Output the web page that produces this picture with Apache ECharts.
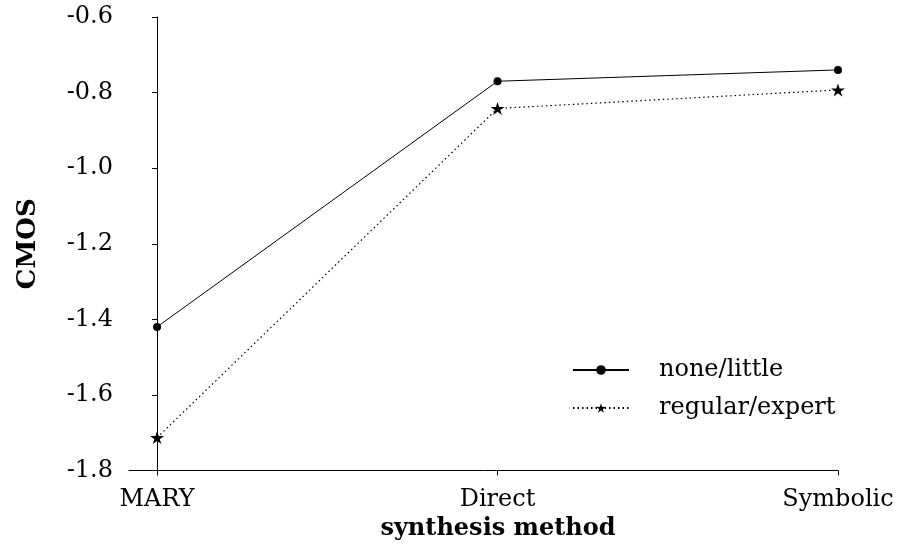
<!DOCTYPE html>
<html><head><meta charset="utf-8">
<script src="https://cdn.jsdelivr.net/npm/echarts@6/dist/echarts.min.js"></script>
<style>html,body{margin:0;padding:0;background:#fff}#c{width:898px;height:552px}</style>
</head><body><div id="c"></div>
<script>
const categories = ['MARY', 'Direct', 'Symbolic'];
const noneLittle = [-1.42, -0.77, -0.74];
const regularExpert = [-1.713, -0.842, -0.793];
const seriesNames = ['none/little', 'regular/expert'];
const yTicks = [-1.8, -1.6, -1.4, -1.2, -1.0, -0.8, -0.6];

const FONT = 'DejaVu Serif';
const star = 'path://M0,-10 L2.23,-3.07 L9.51,-3.09 L3.61,1.17 L5.88,8.09 L0,3.8 L-5.88,8.09 L-3.61,1.17 L-9.51,-3.09 L-2.23,-3.07 Z';
const toPts = arr => arr.map((v, i) => [i, v]);

const chart = echarts.init(document.getElementById('c'), null, {renderer: 'canvas'});
chart.setOption({
  animation: false,
  backgroundColor: '#fff',
  textStyle: {fontFamily: FONT, color: '#000'},
  grid: {left: 129, right: 60, top: 17, bottom: 81.5, containLabel: false},
  xAxis: {
    type: 'value', min: -0.0824, max: 2,
    name: 'synthesis method', nameLocation: 'middle', nameGap: 42,
    nameTextStyle: {fontFamily: FONT, fontWeight: 'bold', fontSize: 24, color: '#000', padding: [0, 0, 0, 29]},
    axisLine: {show: true, lineStyle: {color: '#000', width: 1}},
    axisTick: {show: true, customValues: [0, 1, 2], length: 5, lineStyle: {color: '#000'}},
    axisLabel: {customValues: [0, 1, 2], formatter: v => categories[Math.round(v)] || '', fontFamily: FONT, fontSize: 24, color: '#000', margin: 17},
    splitLine: {show: false}
  },
  yAxis: {
    type: 'value', min: -1.8, max: -0.6, interval: 0.2,
    name: 'CMOS', nameLocation: 'middle', nameGap: 88,
    nameTextStyle: {fontFamily: FONT, fontWeight: 'bold', fontSize: 26, color: '#000'},
    axisLine: {show: true, lineStyle: {color: '#000', width: 1}},
    axisTick: {show: true, length: 5, lineStyle: {color: '#000'}},
    axisLabel: {customValues: yTicks, formatter: v => v.toFixed(1), fontFamily: FONT, fontSize: 24, color: '#000', margin: 16},
    splitLine: {show: false}
  },
  legend: {
    orient: 'vertical', left: 567, top: 353,
    itemWidth: 56, itemHeight: 12, itemGap: 14,
    textStyle: {fontFamily: FONT, fontSize: 24, color: '#000', padding: [0, 0, 0, 25]},
    data: seriesNames
  },
  series: [
    {name: seriesNames[0], type: 'line', data: toPts(noneLittle),
     symbol: 'circle', symbolSize: 8, itemStyle: {color: '#000'},
     lineStyle: {color: '#000', width: 1, type: 'solid'}},
    {name: seriesNames[1], type: 'line', data: toPts(regularExpert),
     symbol: star, symbolSize: [14, 13], itemStyle: {color: '#000'},
     lineStyle: {color: '#000', width: 1.2, type: [1.5, 3]}}
  ]
});
</script></body></html>
